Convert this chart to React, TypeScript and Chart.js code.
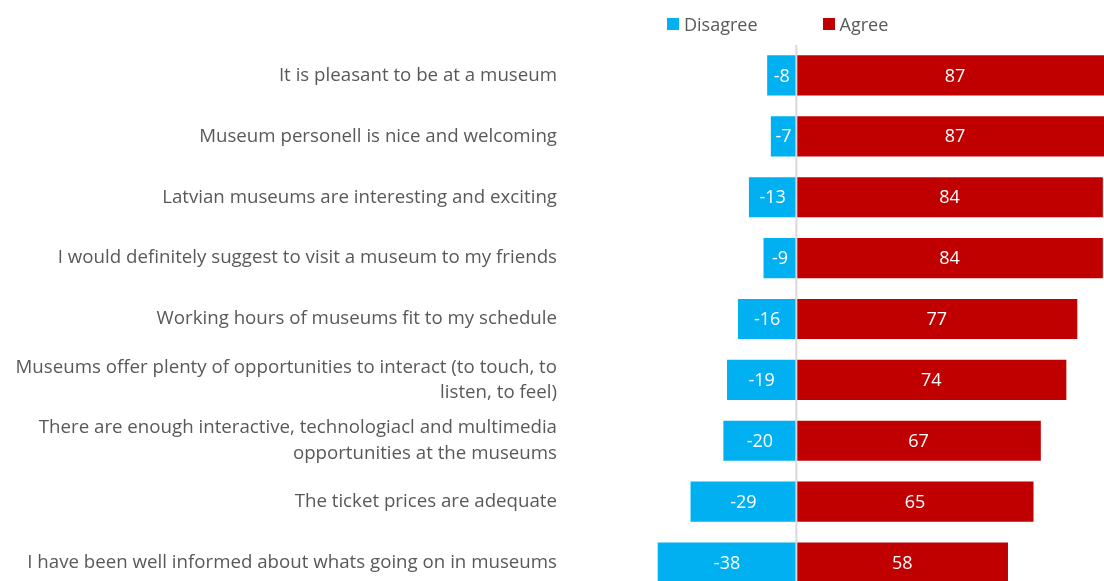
import React, { useEffect, useRef } from "react";
import { Chart, registerables } from "chart.js";

Chart.register(...registerables);

const categories: (string | string[])[] = [
  "It is pleasant to be at a museum",
  "Museum personell is nice and welcoming",
  "Latvian museums are interesting and exciting",
  "I would definitely suggest to visit a museum to my friends",
  "Working hours of museums fit to my schedule",
  ["Museums offer plenty of opportunities to interact (to touch, to", "listen, to feel)"],
  ["There are enough interactive, technologiacl and multimedia", "opportunities at the museums"],
  "The ticket prices are adequate",
  "I have been well informed about whats going on in museums",
];

const disagree = [-8, -7, -13, -9, -16, -19, -20, -29, -38];
const agree = [87, 87, 84, 84, 77, 74, 67, 65, 58];

const seriesNames = ["Disagree", "Agree"];
const seriesColors = ["#00B0F0", "#C00000"];

const FONT = "'Open Sans', Lato, sans-serif";
const TEXT_COLOR = "#595959";

const valueLabels = {
  id: "valueLabels",
  afterDatasetsDraw(chart: any) {
    const ctx = chart.ctx;
    ctx.save();
    const xs = chart.scales.x;
    const x0 = xs.getPixelForValue(0);
    ctx.strokeStyle = "#D9D9D9";
    ctx.lineWidth = 2;
    ctx.beginPath();
    ctx.moveTo(x0, chart.chartArea.top);
    ctx.lineTo(x0, chart.chartArea.bottom);
    ctx.stroke();
    ctx.fillStyle = "#FFFFFF";
    ctx.font = `18px ${FONT}`;
    ctx.textAlign = "center";
    ctx.textBaseline = "middle";
    chart.data.datasets.forEach((ds: any, i: number) => {
      const meta = chart.getDatasetMeta(i);
      meta.data.forEach((el: any, j: number) => {
        const cx = (el.x + el.base) / 2;
        ctx.fillText(String(ds.data[j]), cx, el.y + 1);
      });
    });
    ctx.restore();
  },
};

export default function App() {
  const ref = useRef<HTMLCanvasElement>(null);
  useEffect(() => {
    if (!ref.current) return;
    const chart = new Chart(ref.current, {
      type: "bar",
      data: {
        labels: categories,
        datasets: [
          {
            label: seriesNames[0],
            data: disagree,
            backgroundColor: seriesColors[0],
            barPercentage: 0.66,
            categoryPercentage: 1,
          },
          {
            label: seriesNames[1],
            data: agree,
            backgroundColor: seriesColors[1],
            barPercentage: 0.66,
            categoryPercentage: 1,
          },
        ],
      },
      options: {
        indexAxis: "y",
        animation: false,
        responsive: false,
        maintainAspectRatio: false,
        layout: { padding: { top: 45, bottom: 20, left: 0, right: 0 } },
        plugins: {
          legend: { display: false },
          tooltip: { enabled: false },
        },
        scales: {
          x: {
            stacked: true,
            display: false,
            min: -65.6,
            max: 88.7,
          },
          y: {
            stacked: true,
            grid: { display: false, drawTicks: false },
            border: { display: false },
            ticks: {
              color: TEXT_COLOR,
              font: { family: FONT, size: 18.7, lineHeight: 1.35 },
              padding: 0,
              autoSkip: false,
            },
            afterFit(scale: any) {
              scale.width = 557;
            },
          },
        },
      },
      plugins: [valueLabels],
    });
    return () => chart.destroy();
  }, []);

  return (
    <div
      style={{
        position: "fixed",
        left: 0,
        top: 0,
        width: 1104,
        height: 581,
        overflow: "hidden",
        background: "#FFFFFF",
      }}
    >
      <canvas ref={ref} width={1120} height={613} style={{ display: "block" }} />
      <div
        style={{
          position: "absolute",
          left: 667,
          top: 13,
          display: "flex",
          alignItems: "center",
          fontFamily: FONT,
          fontSize: 18,
          lineHeight: "22px",
          color: TEXT_COLOR,
        }}
      >
        {seriesNames.map((n, i) => (
          <div key={n} style={{ display: "flex", alignItems: "center", marginRight: i === 0 ? 65 : 0 }}>
            <span style={{ width: 12, height: 12, background: seriesColors[i], marginRight: 5, display: "inline-block" }} />
            <span>{n}</span>
          </div>
        ))}
      </div>
    </div>
  );
}
